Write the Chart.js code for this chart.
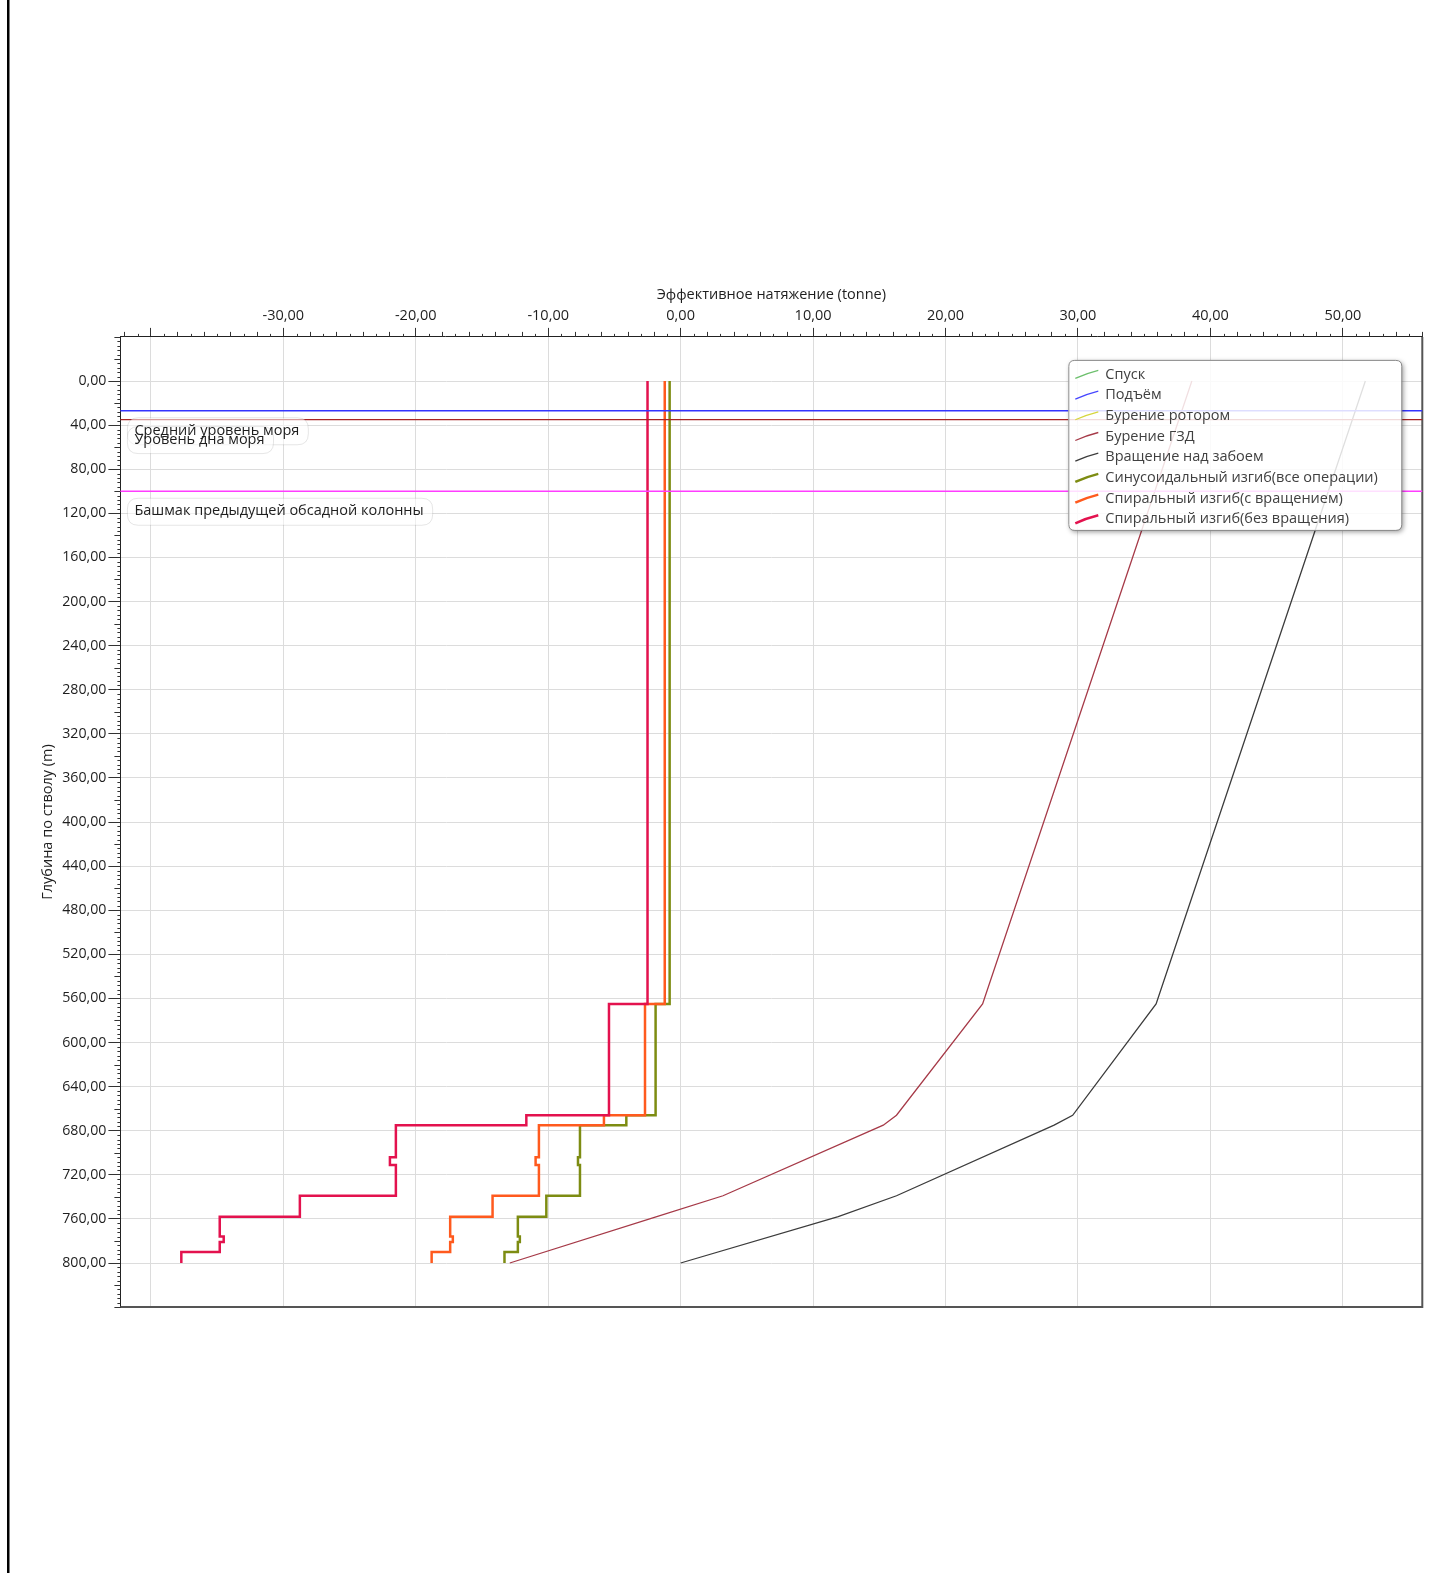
<!DOCTYPE html>
<html>
<head>
<meta charset="utf-8">
<script src="https://cdn.jsdelivr.net/npm/chart.js@4.4.1/dist/chart.umd.min.js"></script>
<style>
  html, body { margin: 0; padding: 0; background: #ffffff; }
  canvas { display: block; }
</style>
</head>
<body>
<canvas id="tension" width="1440" height="1573"></canvas>
<script>
// ---- Axis ticks ----
const xTickValues = [-40, -30, -20, -10, 0, 10, 20, 30, 40, 50];
const xTickLabels = ['', '-30,00', '-20,00', '-10,00', '0,00', '10,00', '20,00', '30,00', '40,00', '50,00'];
const yTickValues = [0, 40, 80, 120, 160, 200, 240, 280, 320, 360, 400, 440, 480, 520, 560, 600, 640, 680, 720, 760, 800];
const yTickLabels = ['0,00', '40,00', '80,00', '120,00', '160,00', '200,00', '240,00', '280,00', '320,00', '360,00',
  '400,00', '440,00', '480,00', '520,00', '560,00', '600,00', '640,00', '680,00', '720,00', '760,00', '800,00'];

// ---- Series names (legend order) ----
const seriesNames = [
  'Спуск',
  'Подъём',
  'Бурение ротором',
  'Бурение ГЗД',
  'Вращение над забоем',
  'Синусоидальный изгиб(все операции)',
  'Спиральный изгиб(с вращением)',
  'Спиральный изгиб(без вращения)'
];

// ---- Effective tension along the string, tonne vs measured depth, m ----
const motorDrillDepths = [0, 565, 666, 675, 739, 758, 800];
const motorDrillTension = [38.6, 22.8, 16.3, 15.3, 3.2, -1.8, -12.9];
const offBottomDepths = [0, 565, 666, 675, 739, 758, 800];
const offBottomTension = [51.7, 35.9, 29.6, 28.2, 16.3, 11.9, 0];

// ---- Buckling limits: interval boundaries (m) and limit in each interval (tonne) ----
const bucklingDepths = [0, 565, 666, 675, 704, 711, 739, 758, 776, 781, 790, 800];
const sinusoidalLimit = [-0.83, -1.89, -4.1, -7.6, -7.75, -7.6, -10.14, -12.29, -12.14, -12.29, -13.3];
const helicalRotLimit = [-1.2, -2.69, -5.79, -10.7, -10.95, -10.7, -14.2, -17.4, -17.2, -17.4, -18.8];
const helicalNoRotLimit = [-2.5, -5.41, -11.65, -21.5, -21.95, -21.5, -28.75, -34.8, -34.5, -34.8, -37.7];

// ---- Reference depths, m ----
const markerDepths = [27, 35, 100];
const markerNames = ['Средний уровень моря', 'Уровень дна моря', 'Башмак предыдущей обсадной колонны'];

// ---- Styles ----
const FONT = '"Open Sans", "Noto Sans", sans-serif';
const seriesColors = ['#6cbf6c', '#4646ff', '#d6d63c', '#a63a48', '#3c3c3c', '#7d8c12', '#ff5a1e', '#e3124e'];
const seriesWidths = [1.2, 1.2, 1.2, 1.3, 1.3, 2.5, 2.5, 2.5];
const markerColors = ['#3434ff', '#a82424', '#ff3cff'];
const markerWidths = [1.4, 1.2, 1.4];

function curvePoints(depths, values) {
  return depths.map((d, i) => ({ x: values[i], y: d }));
}
function stepPoints(bounds, values) {
  const pts = [];
  values.forEach((v, i) => {
    pts.push({ x: v, y: bounds[i] });
    pts.push({ x: v, y: bounds[i + 1] });
  });
  return pts;
}

const seriesData = [
  [],
  [],
  [],
  curvePoints(motorDrillDepths, motorDrillTension),
  curvePoints(offBottomDepths, offBottomTension),
  stepPoints(bucklingDepths, sinusoidalLimit),
  stepPoints(bucklingDepths, helicalRotLimit),
  stepPoints(bucklingDepths, helicalNoRotLimit)
];
const drawOrder = [8, 7, 6, 5, 4, 3, 2, 1];

const datasets = seriesNames.map((name, i) => ({
  label: name,
  data: seriesData[i],
  showLine: true,
  borderColor: seriesColors[i],
  backgroundColor: seriesColors[i],
  borderWidth: seriesWidths[i],
  pointRadius: 0,
  tension: 0,
  fill: false,
  order: drawOrder[i]
}));

function roundRectPath(ctx, x, y, w, h, r) {
  ctx.moveTo(x + r, y);
  ctx.lineTo(x + w - r, y);
  ctx.quadraticCurveTo(x + w, y, x + w, y + r);
  ctx.lineTo(x + w, y + h - r);
  ctx.quadraticCurveTo(x + w, y + h, x + w - r, y + h);
  ctx.lineTo(x + r, y + h);
  ctx.quadraticCurveTo(x, y + h, x, y + h - r);
  ctx.lineTo(x, y + r);
  ctx.quadraticCurveTo(x, y, x + r, y);
  ctx.closePath();
}
function roundRect(ctx, x, y, w, h, r) {
  ctx.beginPath();
  roundRectPath(ctx, x, y, w, h, r);
}

// Minor ticks, frame, reference depth lines and legend
const decorations = {
  id: 'decorations',
  beforeDraw(chart) {
    const ctx = chart.ctx;
    ctx.save();
    ctx.fillStyle = '#ffffff';
    ctx.fillRect(0, 0, chart.width, chart.height);
    ctx.restore();
  },
  afterDatasetsDraw(chart) {
    const ctx = chart.ctx;
    const area = chart.chartArea;
    const xs = chart.scales.x;
    const ys = chart.scales.y;
    ctx.save();

    // frame on the right and bottom
    ctx.strokeStyle = '#555555';
    ctx.lineWidth = 2;
    ctx.beginPath();
    ctx.moveTo(area.right, area.top);
    ctx.lineTo(area.right, area.bottom);
    ctx.lineTo(area.left, area.bottom);
    ctx.stroke();

    // minor ticks on the tension axis (top)
    ctx.strokeStyle = '#333333';
    ctx.lineWidth = 1;
    ctx.beginPath();
    for (let v = Math.ceil(xs.min); v <= Math.floor(xs.max); v++) {
      if (v % 10 === 0) continue;
      const len = (v % 2 === 0) ? 5 : 3;
      const px = Math.round(xs.getPixelForValue(v)) + 0.5;
      ctx.moveTo(px, area.top);
      ctx.lineTo(px, area.top - len);
    }
    // minor ticks on the depth axis (left)
    for (let d = ys.min; d <= ys.max; d += 4) {
      if (d % 40 === 0 && d >= 0 && d <= 800) continue;
      const len = (d % 20 === 0) ? 6 : 3;
      const py = Math.round(ys.getPixelForValue(d)) + 0.5;
      ctx.moveTo(area.left, py);
      ctx.lineTo(area.left - len, py);
    }
    ctx.stroke();

    // reference depth lines with labels
    markerDepths.forEach((d, i) => {
      const py = ys.getPixelForValue(d);
      ctx.strokeStyle = markerColors[i];
      ctx.lineWidth = markerWidths[i];
      ctx.beginPath();
      ctx.moveTo(area.left, py);
      ctx.lineTo(area.right, py);
      ctx.stroke();
    });
    ctx.font = '14.5px ' + FONT;
    ctx.textBaseline = 'middle';
    ctx.textAlign = 'left';
    markerDepths.forEach((d, i) => {
      const cy = ys.getPixelForValue(d) + 20;
      const w = ctx.measureText(markerNames[i]).width;
      ctx.fillStyle = 'rgba(255,255,255,0.55)';
      ctx.strokeStyle = 'rgba(0,0,0,0.10)';
      ctx.lineWidth = 1;
      roundRect(ctx, area.left + 7, cy - 13, w + 16, 27, 11);
      ctx.fill();
      ctx.stroke();
    });
    markerDepths.forEach((d, i) => {
      const cy = ys.getPixelForValue(d) + 20;
      ctx.fillStyle = '#1e1e1e';
      ctx.fillText(markerNames[i], area.left + 14, cy);
    });

    // legend: shadow outside the box only, then a translucent white panel
    const lx = area.right - 354, ly = area.top + 23, lw = 333, lh = 170;
    ctx.save();
    ctx.beginPath();
    ctx.rect(0, 0, chart.width, chart.height);
    roundRectPath(ctx, lx, ly, lw, lh, 6);
    ctx.clip('evenodd');
    ctx.shadowColor = 'rgba(0,0,0,0.40)';
    ctx.shadowBlur = 5;
    ctx.shadowOffsetX = 2;
    ctx.shadowOffsetY = 2;
    ctx.fillStyle = '#ffffff';
    roundRect(ctx, lx, ly, lw, lh, 6);
    ctx.fill();
    ctx.restore();
    ctx.fillStyle = 'rgba(255,255,255,0.84)';
    roundRect(ctx, lx, ly, lw, lh, 6);
    ctx.fill();
    ctx.strokeStyle = '#8a8a8a';
    ctx.lineWidth = 1;
    roundRect(ctx, lx + 0.5, ly + 0.5, lw, lh, 6);
    ctx.stroke();
    ctx.font = '14.5px ' + FONT;
    chart.data.datasets.forEach((ds, i) => {
      const cy = ly + 14.5 + i * 20.7;
      ctx.strokeStyle = ds.borderColor;
      ctx.lineWidth = ds.borderWidth;
      ctx.beginPath();
      ctx.moveTo(lx + 7, cy + 4);
      ctx.quadraticCurveTo(lx + 18, cy - 1, lx + 30, cy - 4);
      ctx.stroke();
      ctx.fillStyle = '#404040';
      ctx.textBaseline = 'middle';
      ctx.fillText(ds.label, lx + 37, cy);
    });

    // page edge line
    ctx.fillStyle = '#000000';
    ctx.fillRect(7, 0, 2.5, chart.height);
    ctx.restore();
  }
};

new Chart(document.getElementById('tension'), {
  type: 'scatter',
  data: { datasets },
  options: {
    responsive: false,
    animation: false,
    devicePixelRatio: 1,
    layout: { padding: { left: 0, top: 278, right: 17.7, bottom: 265.9 } },
    plugins: { legend: { display: false }, tooltip: { enabled: false } },
    scales: {
      x: {
        type: 'linear',
        position: 'top',
        min: -42.3,
        max: 56,
        afterFit(s) { s.height = 58.9; },
        afterBuildTicks(s) { s.ticks = xTickValues.map(v => ({ value: v })); },
        ticks: {
          autoSkip: false,
          maxRotation: 0,
          padding: 3.5,
          color: '#1e1e1e',
          font: { family: FONT, size: 14.5 },
          callback: (v, i) => xTickLabels[i]
        },
        grid: { color: '#dcdcdc', lineWidth: 1, drawTicks: true, tickLength: 9, tickColor: '#333333' },
        border: { display: true, color: '#222222', width: 1 },
        title: {
          display: true,
          text: 'Эффективное натяжение (tonne)',
          color: '#1e1e1e',
          font: { family: FONT, size: 14.5 },
          padding: { top: 8.3, bottom: 0 }
        }
      },
      y: {
        type: 'linear',
        reverse: true,
        min: -40,
        max: 840,
        afterFit(s) { s.width = 120.4; },
        afterBuildTicks(s) { s.ticks = yTickValues.map(v => ({ value: v })); },
        ticks: {
          autoSkip: false,
          padding: 2,
          color: '#1e1e1e',
          font: { family: FONT, size: 14.2 },
          callback: (v, i) => yTickLabels[i]
        },
        grid: { color: '#dcdcdc', lineWidth: 1, drawTicks: true, tickLength: 12, tickColor: '#333333' },
        border: { display: true, color: '#222222', width: 1 },
        title: {
          display: true,
          text: 'Глубина по стволу (m)',
          color: '#1e1e1e',
          font: { family: FONT, size: 14.5 },
          padding: { top: 39.3, bottom: 0 }
        }
      }
    }
  },
  plugins: [decorations]
});
</script>
</body>
</html>
